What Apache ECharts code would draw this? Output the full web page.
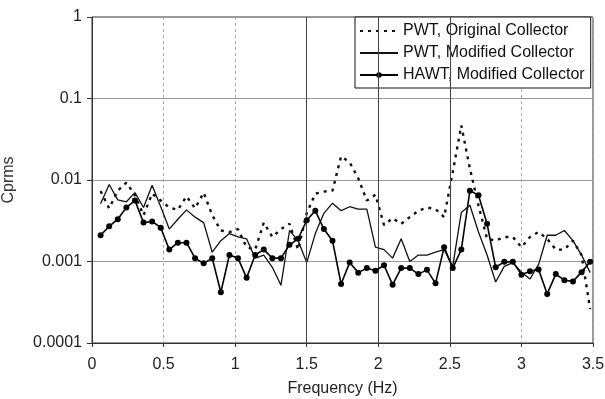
<!DOCTYPE html>
<html>
<head>
<meta charset="utf-8">
<script src="https://cdn.jsdelivr.net/npm/echarts@6/dist/echarts.min.js"></script>
<style>
html,body{margin:0;padding:0;background:#fff;}
#chart{width:605px;height:399px;}
</style>
</head>
<body>
<div id="chart"></div>
<script>
// Frequency (Hz)
const freq = [0.06,0.12,0.18,0.24,0.30,0.36,0.42,0.48,0.54,0.60,
  0.66,0.72,0.78,0.84,0.90,0.96,1.02,1.08,1.14,1.20,
  1.26,1.32,1.38,1.44,1.50,1.56,1.62,1.68,1.74,1.80,
  1.86,1.92,1.98,2.04,2.10,2.16,2.22,2.28,2.34,2.40,
  2.46,2.52,2.58,2.64,2.70,2.76,2.82,2.88,2.94,3.00,
  3.06,3.12,3.18,3.24,3.30,3.36,3.42,3.48];

// PWT, Original Collector (dotted)
const pwtOriginal = [0.0073,0.0045,0.0074,0.0093,0.0065,0.0037,0.0068,0.0056,0.0046,0.0043,
  0.0063,0.0045,0.0070,0.0037,0.0024,0.0023,0.0025,0.0015,0.0014,0.0030,
  0.0020,0.0025,0.0029,0.0014,0.0039,0.0068,0.0072,0.0074,0.0195,0.0165,
  0.0105,0.0056,0.0066,0.0028,0.0034,0.0029,0.0035,0.0042,0.0046,0.0044,
  0.0035,0.0124,0.0467,0.0138,0.0049,0.0019,0.0018,0.0020,0.0020,0.0015,
  0.0020,0.0023,0.0019,0.0014,0.0014,0.0018,0.0012,0.00026];

// PWT, Modified Collector (solid)
const pwtModified = [0.0051,0.0088,0.0057,0.0054,0.0070,0.0046,0.0086,0.0047,0.0025,0.0033,
  0.0043,0.0035,0.0030,0.0013,0.0018,0.0022,0.0020,0.0019,0.0011,0.0012,
  0.00085,0.00051,0.0024,0.0018,0.00097,0.0022,0.0039,0.0052,0.0042,0.0047,
  0.0044,0.0044,0.0015,0.0014,0.0011,0.0019,0.0010,0.0012,0.0012,0.0013,
  0.0014,0.00087,0.0040,0.0049,0.0023,0.0012,0.00056,0.00087,0.00097,0.00074,
  0.00061,0.00092,0.0021,0.0021,0.0024,0.0018,0.0012,0.00073];

// HAWT, Modified Collector (line + dots)
const hawtModified = [0.0021,0.0027,0.0033,0.0046,0.0056,0.0030,0.0031,0.0026,0.0014,0.0017,
  0.0017,0.0011,0.00095,0.0011,0.00042,0.0012,0.0011,0.00063,0.0012,0.0014,
  0.0011,0.0011,0.0016,0.0019,0.0032,0.0042,0.0025,0.0018,0.00053,0.00097,
  0.00073,0.00083,0.00077,0.00090,0.00052,0.00083,0.00083,0.00070,0.00079,0.00054,
  0.0015,0.00083,0.0014,0.0074,0.0065,0.0029,0.00085,0.00099,0.00099,0.00069,
  0.00076,0.00080,0.00040,0.00070,0.00059,0.00057,0.00074,0.00099];

const seriesNames = ['PWT, Original Collector','PWT, Modified Collector','HAWT, Modified Collector'];
const yTickLabels = ['0.0001','0.001','0.01','0.1','1'];
const darkGridX = [1.5, 2, 2.5];

function pairs(vals){ return freq.map((f,i)=>[f, vals[i]]); }

const FONT = 'Liberation Sans';
const chart = echarts.init(document.getElementById('chart'));
chart.setOption({
  animation: false,
  backgroundColor: '#fff',
  textStyle: {fontFamily: FONT},
  grid: {left: 92, right: 12, top: 17, bottom: 56, show: true, borderColor: '#333', borderWidth: 1,
    containLabel: false, outerBoundsMode: 'none'},
  legend: {
    orient: 'vertical', left: 355, top: 17,
    padding: [6, 6, 5, 4],
    itemWidth: 38, itemHeight: 7, itemGap: 6,
    backgroundColor: '#fff', borderColor: '#111', borderWidth: 1,
    textStyle: {fontSize: 16, color: '#111', fontFamily: FONT, lineHeight: 16},
    data: [
      {name: seriesNames[0], itemStyle: {opacity: 0}},
      {name: seriesNames[1], itemStyle: {opacity: 0}},
      {name: seriesNames[2]}
    ]
  },
  xAxis: {
    type: 'value', min: 0, max: 3.5, interval: 0.5,
    name: 'Frequency (Hz)', nameLocation: 'middle', nameGap: 38,
    nameTextStyle: {fontSize: 16, color: '#222', fontFamily: FONT},
    axisLine: {lineStyle: {color: '#333', width: 1}},
    axisTick: {show: true, length: 4, lineStyle: {color: '#333'}},
    axisLabel: {fontSize: 16, color: '#222', margin: 14, fontFamily: FONT},
    splitLine: {show: true, lineStyle: {color: '#aaa', type: [3, 3], width: 1}}
  },
  yAxis: {
    type: 'log', logBase: 10, min: 0.0001, max: 1,
    name: 'Cprms', nameLocation: 'middle', nameGap: 75,
    nameTextStyle: {fontSize: 16, color: '#333', fontFamily: FONT},
    axisLine: {show: true, lineStyle: {color: '#333', width: 1}},
    axisTick: {show: true, length: 5, lineStyle: {color: '#333'}},
    axisLabel: {fontSize: 16, color: '#222', margin: 10, fontFamily: FONT,
      formatter: v => yTickLabels[Math.round(Math.log10(v)) + 4]},
    splitLine: {show: true, lineStyle: {color: '#999', width: 1}}
  },
  series: [
    {
      name: seriesNames[0], type: 'line', data: pairs(pwtOriginal),
      symbol: 'none', lineStyle: {color: '#111', width: 2.4, type: [3, 5]},
      itemStyle: {color: '#111'}, z: 3,
      markLine: {
        silent: true, symbol: 'none', label: {show: false},
        lineStyle: {color: '#444', type: 'solid', width: 1},
        data: darkGridX.map(x => ({xAxis: x}))
      }
    },
    {
      name: seriesNames[1], type: 'line', data: pairs(pwtModified),
      symbol: 'none', lineStyle: {color: '#111', width: 1.3},
      itemStyle: {color: '#111'}, z: 4
    },
    {
      name: seriesNames[2], type: 'line', data: pairs(hawtModified),
      symbol: 'circle', symbolSize: 6, showSymbol: true,
      lineStyle: {color: '#000', width: 1.6},
      itemStyle: {color: '#000'}, z: 5
    }
  ]
});
</script>
</body>
</html>
